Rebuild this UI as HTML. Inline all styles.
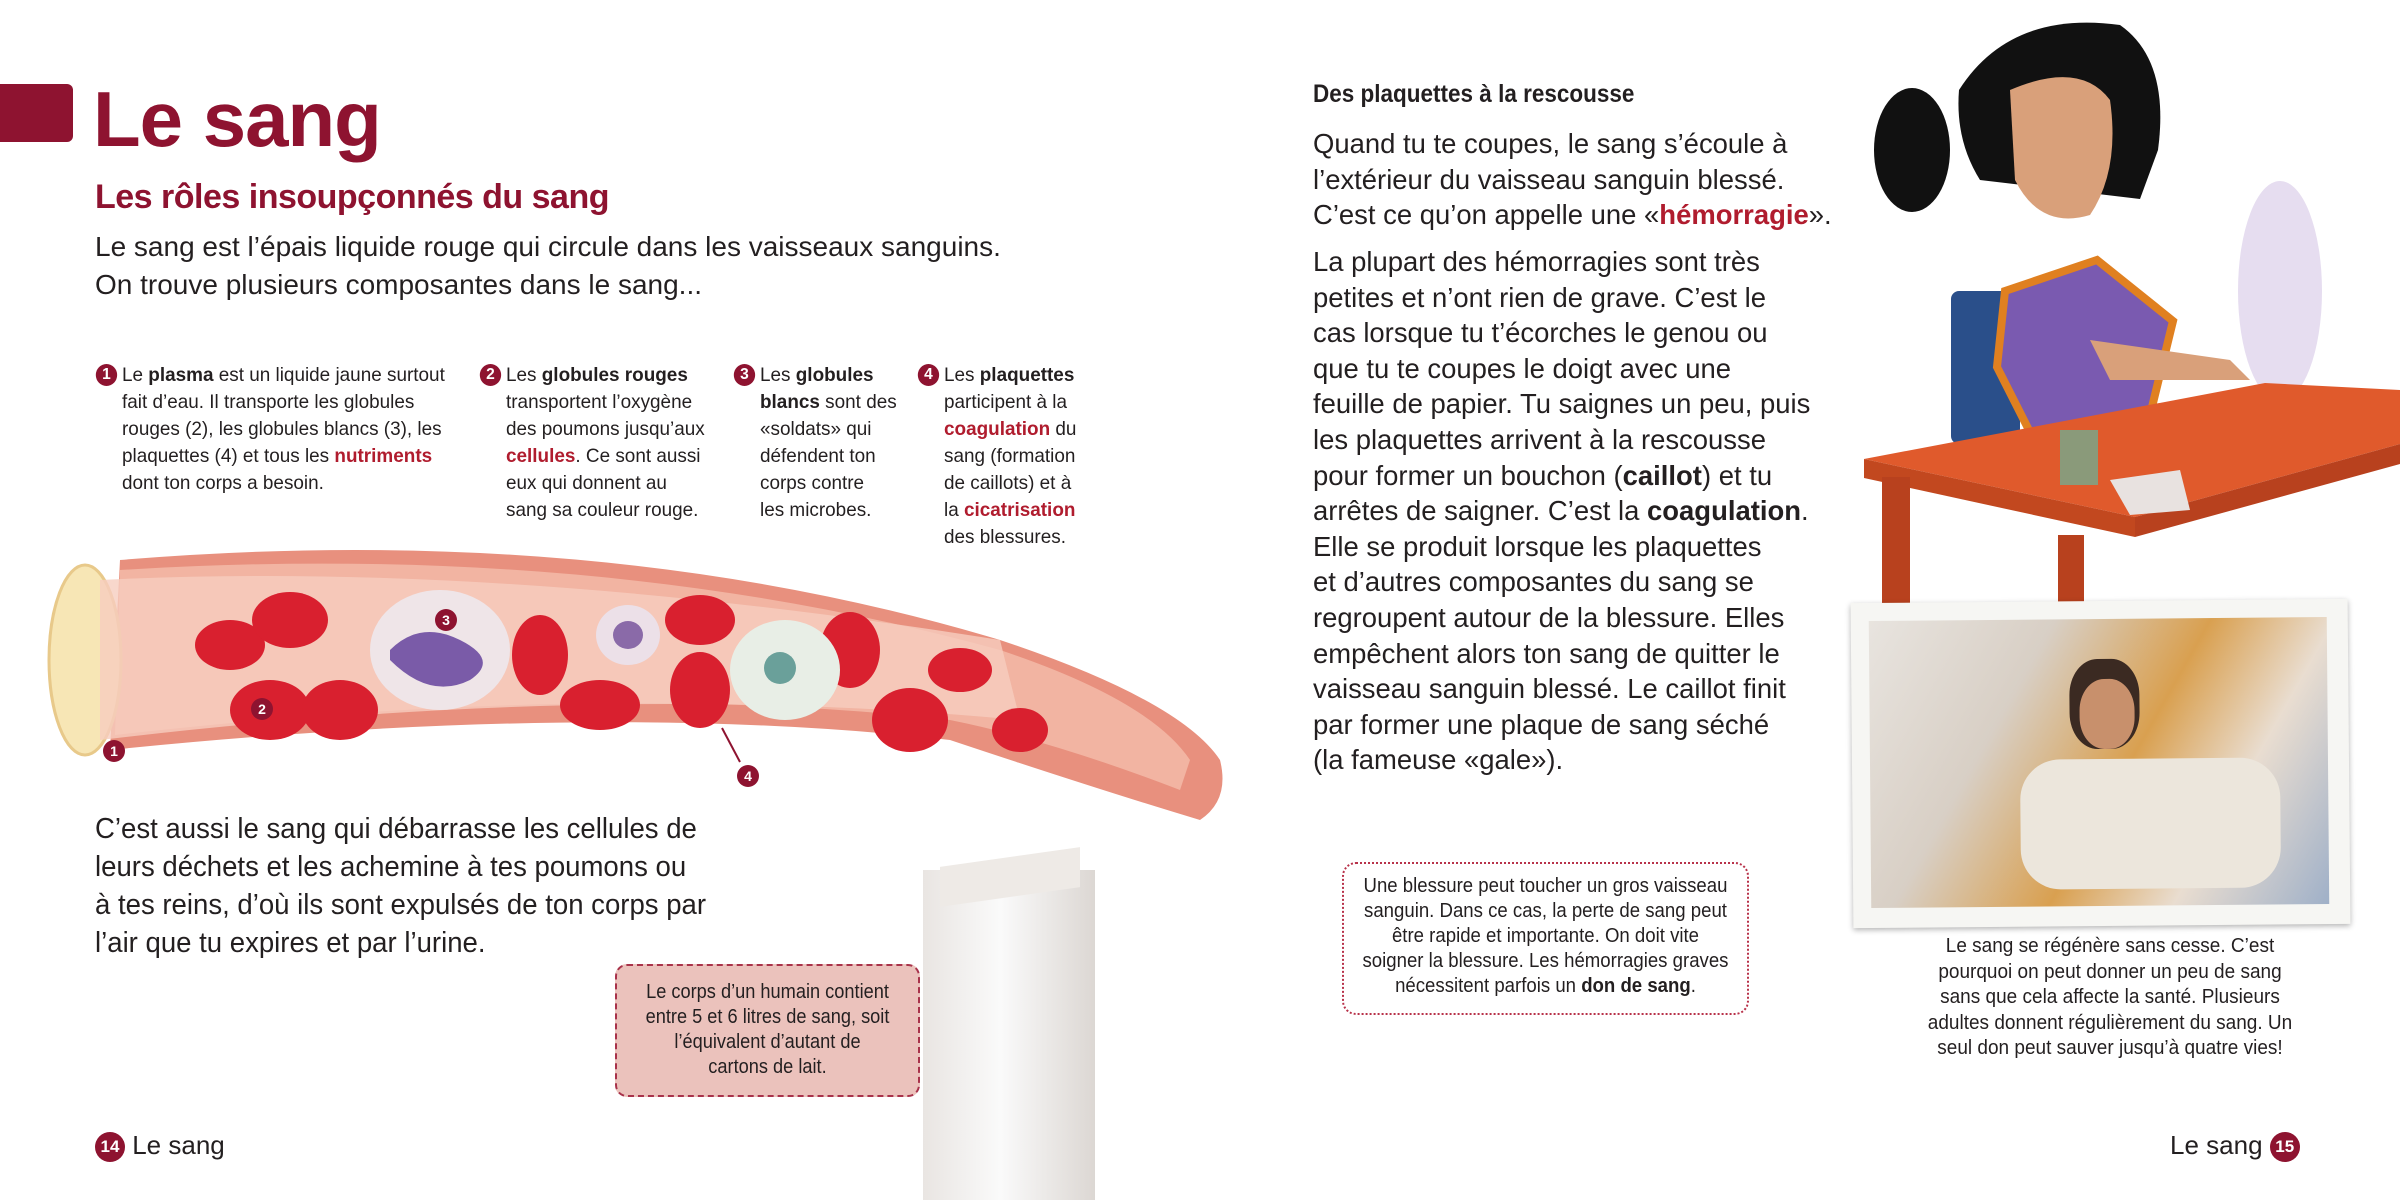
<!DOCTYPE html>
<html><head><meta charset="utf-8"><style>
body{margin:0;width:2400px;height:1200px;background:#fff;position:relative;overflow:hidden;font-family:"Liberation Sans",sans-serif;color:#231f20}
.a{position:absolute;white-space:nowrap}
.r{color:#b01c2e;font-weight:bold}
b{font-weight:bold}
.sx{transform-origin:0 0}
.sc{transform-origin:50% 0}
.num{display:inline-block;width:22px;height:22px;border-radius:50%;background:#8e1330;color:#fff;font-size:16px;font-weight:bold;text-align:center;line-height:22px;position:absolute;left:-27px;top:2px}
.col{font-size:19.5px;line-height:27px;transform:scaleX(0.97)}
.p{font-size:28px;line-height:35.6px}
</style></head><body>
<div class="a" style="left:0;top:84px;width:73px;height:58px;background:#8e1330;border-radius:0 6px 6px 0"></div>
<div class="a" style="left:93px;top:74px;font-size:78px;font-weight:bold;color:#8e1330;letter-spacing:-1px">Le sang</div>
<div class="a" style="left:95px;top:178px;font-size:34px;font-weight:bold;color:#8e1330;letter-spacing:-0.5px">Les rôles insoupçonnés du sang</div>
<div class="a p" style="left:95px;top:228px;font-size:28px;line-height:38px">Le sang est l’épais liquide rouge qui circule dans les vaisseaux sanguins.<br>On trouve plusieurs composantes dans le sang...</div>

<div class="a col sx" style="left:122px;top:362px"><span class="num">1</span>Le <b>plasma</b> est un liquide jaune surtout<br>fait d’eau. Il transporte les globules<br>rouges (2), les globules blancs (3), les<br>plaquettes (4) et tous les <span class="r">nutriments</span><br>dont ton corps a besoin.</div>
<div class="a col sx" style="left:506px;top:362px"><span class="num">2</span>Les <b>globules rouges</b><br>transportent l’oxygène<br>des poumons jusqu’aux<br><span class="r">cellules</span>. Ce sont aussi<br>eux qui donnent au<br>sang sa couleur rouge.</div>
<div class="a col sx" style="left:760px;top:362px"><span class="num">3</span>Les <b>globules</b><br><b>blancs</b> sont des<br>«soldats» qui<br>défendent ton<br>corps contre<br>les microbes.</div>
<div class="a col sx" style="left:944px;top:362px"><span class="num">4</span>Les <b>plaquettes</b><br>participent à la<br><span class="r">coagulation</span> du<br>sang (formation<br>de caillots) et à<br>la <span class="r">cicatrisation</span><br>des blessures.</div>

<svg class="a" style="left:0;top:540px" width="1240" height="300" viewBox="0 540 1240 300">
<path d="M120 560 Q600 520 1000 640 Q1180 700 1220 760 Q1230 800 1200 820 Q1100 790 950 740 Q600 700 110 750 Z" fill="#e8907e"/>
<path d="M120 570 Q600 540 1000 650 Q1150 700 1190 760 L1180 790 Q1050 740 950 720 Q600 680 115 735 Z" fill="#f2b4a2"/>
<ellipse cx="85" cy="660" rx="36" ry="95" fill="#f7e6b5" stroke="#e8c98a" stroke-width="3"/>
<path d="M100 580 Q500 560 1000 640 L1020 720 Q600 680 100 740 Z" fill="#f6cdbf" opacity="0.8"/>
<g fill="#d9202f">
<ellipse cx="230" cy="645" rx="35" ry="25"/><ellipse cx="290" cy="620" rx="38" ry="28"/><ellipse cx="270" cy="710" rx="40" ry="30"/><ellipse cx="340" cy="710" rx="38" ry="30"/>
<ellipse cx="540" cy="655" rx="28" ry="40"/><ellipse cx="600" cy="705" rx="40" ry="25"/><ellipse cx="700" cy="620" rx="35" ry="25"/><ellipse cx="700" cy="690" rx="30" ry="38"/>
<ellipse cx="850" cy="650" rx="30" ry="38"/><ellipse cx="910" cy="720" rx="38" ry="32"/><ellipse cx="960" cy="670" rx="32" ry="22"/><ellipse cx="1020" cy="730" rx="28" ry="22"/>
</g>
<ellipse cx="440" cy="650" rx="70" ry="60" fill="#efe5e8"/><path d="M390 650 Q420 620 460 640 Q500 660 470 680 Q430 700 390 660Z" fill="#7a5ba8"/>
<ellipse cx="628" cy="635" rx="32" ry="30" fill="#ece0e8"/><ellipse cx="628" cy="635" rx="15" ry="14" fill="#8a6aa8"/>
<ellipse cx="785" cy="670" rx="55" ry="50" fill="#e8eee6"/><circle cx="780" cy="668" r="16" fill="#6aa09a"/>
<g fill="#8e1330"><circle cx="114" cy="751" r="11"/><circle cx="262" cy="709" r="11"/><circle cx="446" cy="620" r="11"/><circle cx="748" cy="776" r="11"/></g>
<g fill="#fff" font-size="14" font-weight="bold" text-anchor="middle"><text x="114" y="756">1</text><text x="262" y="714">2</text><text x="446" y="625">3</text><text x="748" y="781">4</text></g>
<line x1="740" y1="762" x2="722" y2="728" stroke="#8e1330" stroke-width="2"/>
</svg>

<div class="a sx" style="left:95px;top:810px;font-size:29px;line-height:38px;transform:scaleX(0.95)">C’est aussi le sang qui débarrasse les cellules de<br>leurs déchets et les achemine à tes poumons ou<br>à tes reins, d’où ils sont expulsés de ton corps par<br>l’air que tu expires et par l’urine.</div>

<div class="a" style="left:923px;top:870px;width:172px;height:330px;background:linear-gradient(90deg,#e9e5e2,#fafafa 45%,#dcd7d3)"></div>
<div class="a" style="left:940px;top:857px;width:140px;height:40px;background:#eeeae6;transform:skewY(-8deg)"></div>
<div class="a" style="left:615px;top:964px;width:305px;height:133px;background:#ebc2bc;border:2px dashed #a8324a;border-radius:12px;box-sizing:border-box"></div>
<div class="a sc" style="left:615px;top:980px;width:305px;font-size:20px;line-height:25px;text-align:center;transform:scaleX(0.91)">Le corps d’un humain contient<br>entre 5 et 6 litres de sang, soit<br>l’équivalent d’autant de<br>cartons de lait.</div>

<div class="a" style="left:95px;top:1130px;font-size:26px"><span style="display:inline-block;width:30px;height:30px;border-radius:50%;background:#8e1330;color:#fff;font-size:17px;font-weight:bold;text-align:center;line-height:30px;vertical-align:middle">14</span> Le sang</div>

<div class="a sx" style="left:1313px;top:80px;font-size:25px;font-weight:bold;transform:scaleX(0.9)">Des plaquettes à la rescousse</div>
<div class="a p sx" style="left:1313px;top:126px;transform:scaleX(0.98)">Quand tu te coupes, le sang s’écoule à<br>l’extérieur du vaisseau sanguin blessé.<br>C’est ce qu’on appelle une «<span class="r">hémorragie</span>».</div>
<div class="a p sx" style="left:1313px;top:244px;transform:scaleX(0.98)">La plupart des hémorragies sont très<br>petites et n’ont rien de grave. C’est le<br>cas lorsque tu t’écorches le genou ou<br>que tu te coupes le doigt avec une<br>feuille de papier. Tu saignes un peu, puis<br>les plaquettes arrivent à la rescousse<br>pour former un bouchon (<b>caillot</b>) et tu<br>arrêtes de saigner. C’est la <b>coagulation</b>.<br>Elle se produit lorsque les plaquettes<br>et d’autres composantes du sang se<br>regroupent autour de la blessure. Elles<br>empêchent alors ton sang de quitter le<br>vaisseau sanguin blessé. Le caillot finit<br>par former une plaque de sang séché<br>(la fameuse «gale»).</div>

<svg class="a" style="left:1860px;top:0" width="540" height="612">
<rect x="91" y="291" width="69" height="153" rx="8" fill="#2a4f8a"/>
<path d="M145 291 L237 260 L313 321 L283 444 L176 444 L137 367Z" fill="#7a5ab0" stroke="#e08020" stroke-width="8"/>
<path d="M230 340 L370 360 L390 380 L250 380Z" fill="#d9a07a"/>
<ellipse cx="52" cy="150" rx="38" ry="62" fill="#111"/>
<path d="M99 90 Q150 10 260 25 Q310 60 298 150 L280 199 L120 180 Q95 140 99 90Z" fill="#111"/>
<path d="M150 90 Q220 60 250 100 Q260 170 230 215 Q180 230 155 180Z" fill="#d9a07a"/>
<ellipse cx="420" cy="291" rx="42" ry="110" fill="#e6ddf0"/>
<polygon points="4,459 405,383 540,390 540,444 275,517" fill="#e05a2c"/>
<polygon points="4,459 275,517 275,537 4,478" fill="#c2481f"/>
<polygon points="275,517 540,444 540,464 275,537" fill="#b8411e"/>
<rect x="22" y="477" width="28" height="130" fill="#b8411e"/>
<rect x="198" y="535" width="26" height="77" fill="#b8411e"/>
<rect x="200" y="430" width="38" height="55" fill="#8a9a7a"/>
<polygon points="250,480 320,470 330,510 270,515" fill="#e8e2e0"/>
</svg>

<div class="a" style="left:1852px;top:601px;width:497px;height:325px;background:#f6f6f3;box-shadow:0 2px 6px rgba(0,0,0,.3);transform:rotate(-0.5deg)">
<div style="position:absolute;left:18px;top:18px;width:458px;height:287px;background:linear-gradient(120deg,#e8e4df 0%,#d8cfc5 30%,#d9a050 55%,#e9ddd0 75%,#9fb0c8 100%)">
<div style="position:absolute;left:200px;top:40px;width:70px;height:90px;border-radius:40%;background:#3b2a22"></div>
<div style="position:absolute;left:210px;top:60px;width:55px;height:70px;border-radius:45%;background:#c8906c"></div>
<div style="position:absolute;left:150px;top:140px;width:260px;height:130px;border-radius:40px;background:#ece6dc"></div>
</div></div>
<div class="a sc" style="left:1890px;top:934px;width:440px;font-size:20px;line-height:25.5px;text-align:center;transform:scaleX(0.95)">Le sang se régénère sans cesse. C’est<br>pourquoi on peut donner un peu de sang<br>sans que cela affecte la santé. Plusieurs<br>adultes donnent régulièrement du sang. Un<br>seul don peut sauver jusqu’à quatre vies!</div>

<div class="a" style="left:1342px;top:862px;width:407px;height:153px;border:2px dotted #b8324a;border-radius:14px;box-sizing:border-box"></div>
<div class="a sc" style="left:1342px;top:874px;width:407px;font-size:20px;line-height:25px;text-align:center;transform:scaleX(0.93)">Une blessure peut toucher un gros vaisseau<br>sanguin. Dans ce cas, la perte de sang peut<br>être rapide et importante. On doit vite<br>soigner la blessure. Les hémorragies graves<br>nécessitent parfois un <b>don de sang</b>.</div>

<div class="a" style="left:2170px;top:1130px;font-size:26px">Le sang <span style="display:inline-block;width:30px;height:30px;border-radius:50%;background:#8e1330;color:#fff;font-size:17px;font-weight:bold;text-align:center;line-height:30px;vertical-align:middle">15</span></div>
</body></html>
